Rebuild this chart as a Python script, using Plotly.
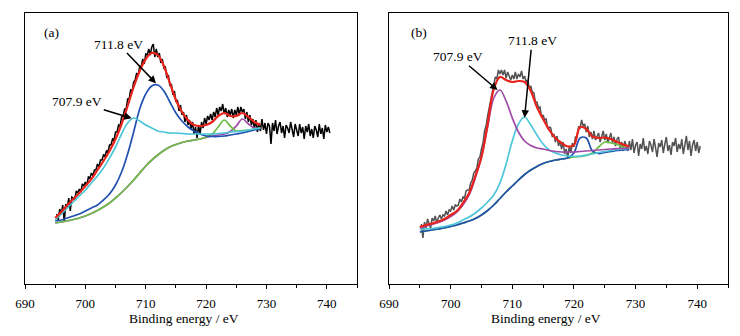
import plotly.graph_objects as go

# ---------------- data ----------------
# fitted components sampled every 1 eV from 695 to 729 eV; raw spectra every 0.25 eV from 695.25 eV
fit_start, fit_step = 695, 1
raw_start, raw_step = 695.25, 0.25

# panel (a)
a_envelope = [66, 72, 79, 85, 91, 98, 105, 114, 123, 133, 145, 160, 178, 197, 213, 225, 231, 229, 218, 201,
              184, 172, 164, 159, 158, 159, 162, 168, 171, 168, 168, 171, 167, 162, 159]
a_peak_7079 = [64, 70, 76, 82, 88, 94, 101, 108, 116, 126, 137, 150, 161, 166, 163, 159, 156, 153, 152, 151,
               151, 150.5, 150, 150, 150, 150, 150, 150.5, 151, 152, 152.5, 153, 154, 155, 156]
a_peak_7118 = [63, 64, 66, 68, 70, 73, 76, 79, 84, 90, 99, 112, 130, 152, 175, 190, 198, 199, 193, 182,
               171, 163, 157, 153, 150, 148, 147.5, 147.5, 148, 149, 150, 151, 152.5, 154, 155.5]
a_sat1 = [61, 62, 63, 64.5, 66, 68, 70.5, 73.5, 77, 81, 86, 91.5, 97.5, 104, 111, 118, 124, 129, 133.5, 137,
          139.5, 141.5, 143, 144, 145, 147, 150, 157, 164, 158, 153, 153.5, 154, 155, 156]
a_sat2 = [61, 62, 63, 64.5, 66, 68, 70.5, 73.5, 77, 81, 86, 91.5, 97.5, 104, 111, 118, 124, 129, 133.5, 137,
          139.5, 141.5, 143, 144, 145, 146.5, 148, 149, 150, 152.5, 158, 165, 160, 156, 156]
a_raw = [70, 64, 75, 70, 79, 62, 80, 77, 86, 73, 87, 86, 85, 93, 91, 95, 92, 100, 98, 102,
         99, 107, 106, 111, 108, 114, 114, 120, 117, 124, 124, 129, 128, 133, 132, 139, 139, 145, 144, 152,
         152, 159, 158, 167, 168, 175, 175, 185, 185, 194, 193, 202, 204, 211, 208, 218, 217, 225, 220, 230,
         229, 235, 229, 237, 240, 227, 235, 227, 231, 221, 225, 216, 217, 206, 209, 198, 200, 189, 193, 182,
         184, 173, 179, 169, 172, 162, 169, 159, 164, 155, 162, 150, 157, 146, 159, 150, 162, 156, 166, 160,
         168, 164, 170, 164, 172, 167, 176, 169, 177, 173, 180, 170, 176, 167, 174, 169, 175, 166, 174, 169,
         177, 169, 177, 172, 175, 165, 172, 162, 169, 159, 165, 155, 164, 152, 161, 153, 165, 154, 161, 150,
         161, 158, 140, 161, 153, 164, 150, 158, 162, 151, 158, 146, 159, 156, 151, 162, 152, 147, 160, 155,
         148, 160, 151, 157, 145, 158, 152, 160, 148, 155, 146, 158, 154, 147, 160, 150, 156, 145, 159, 152,
         157, 151]

# panel (b)
b_envelope = [57, 59, 60.5, 62.5, 65, 69, 73, 81, 91, 108, 127, 160, 195, 207, 204, 202, 203, 202, 193, 177,
              165, 154, 146, 141, 137.5, 139, 157, 155, 147.5, 146, 146.5, 145, 142, 139.5, 137.5]
b_peak_7079 = [56, 58, 59.5, 61.5, 64, 67.5, 72, 79, 89, 106, 127, 157, 186, 194, 183, 166, 152, 143, 138.5, 136,
               135, 133.5, 132.5, 132, 132, 132, 132.5, 133, 133.5, 134, 134.5, 135, 135.5, 135.5, 136]
b_peak_7118 = [54.5, 55, 55.5, 56.5, 57.5, 59, 61, 64, 67, 71, 76, 82, 89, 101, 120, 143, 160, 167, 159, 149,
               140, 134, 131, 129, 128, 127.5, 128, 129, 130, 131.5, 132.5, 133.5, 134.5, 135, 135.5]
b_sat1 = [52, 53, 54, 55, 56, 57.5, 59, 61, 63, 65.5, 69, 73.5, 79, 85.5, 92, 98, 104, 109.5, 114, 117.5,
          120.5, 122.5, 124, 125, 126, 131, 146, 146, 133, 130.5, 131.5, 132.5, 133.5, 134, 134.5]
b_sat2 = [52, 53, 54, 55, 56, 57.5, 59, 61, 63, 65.5, 69, 73.5, 79, 85.5, 92, 98, 104, 109.5, 114, 117.5,
          120.5, 122.5, 124, 125, 126, 127, 127.5, 128.5, 131, 137, 142, 141, 139.5, 137, 135]
b_raw = [60, 46, 62, 56, 65, 61, 56, 66, 63, 68, 61, 66, 69, 65, 69, 68, 73, 69, 74, 73,
         78, 74, 79, 78, 79, 85, 82, 87, 86, 93, 94, 94, 101, 104, 111, 113, 116, 125, 127, 135,
         141, 153, 158, 168, 176, 187, 192, 200, 207, 205, 214, 210, 214, 209, 214, 206, 212, 208, 204, 209,
         205, 212, 205, 210, 207, 213, 205, 208, 202, 204, 196, 198, 192, 191, 182, 182, 176, 177, 167, 169,
         164, 165, 155, 157, 156, 147, 150, 142, 148, 138, 143, 135, 142, 130, 135, 126, 138, 131, 141, 137,
         147, 147, 157, 156, 164, 158, 160, 152, 158, 147, 152, 145, 153, 144, 148, 151, 142, 149, 153, 144,
         150, 141, 146, 151, 141, 147, 138, 145, 147, 136, 142, 133, 143, 139, 133, 143, 134, 145, 131, 139,
         142, 128, 140, 135, 146, 133, 138, 130, 143, 139, 132, 145, 134, 127, 141, 137, 144, 131, 140, 147,
         133, 139, 129, 142, 138, 146, 132, 140, 135, 145, 130, 141, 148, 134, 143, 128, 139, 144, 133, 142,
         131, 138]

x_ticks = [690, 700, 710, 720, 730, 740]
x_range = [690, 745]
y_range = [0, 271]
x_title = "Binding energy / eV"

RED = "#e8231c"
CYAN = "#4cc6d8"
BLUE = "#2150b0"
GREEN = "#6dbf45"
PURPLE = "#a04ba8"
FONT = "Liberation Serif, Times New Roman, serif"

fig = go.Figure()


def add_panel(xa, ya, raw, raw_color, comps):
    fig.add_trace(go.Scatter(x0=raw_start, dx=raw_step, y=raw, mode="lines",
                             line=dict(color=raw_color, width=1.5), xaxis=xa, yaxis=ya,
                             showlegend=False, hoverinfo="skip"))
    for vals, col, w in comps:
        fig.add_trace(go.Scatter(x0=fit_start, dx=fit_step, y=vals, mode="lines",
                                 line=dict(color=col, width=w, shape="spline", smoothing=1.0),
                                 xaxis=xa, yaxis=ya, showlegend=False, hoverinfo="skip"))


add_panel("x", "y", a_raw, "#000000",
          [(a_sat2, PURPLE, 1.7), (a_sat1, GREEN, 1.7), (a_peak_7118, BLUE, 1.7),
           (a_peak_7079, CYAN, 1.7), (a_envelope, RED, 2.2)])
add_panel("x2", "y2", b_raw, "#525252",
          [(b_sat2, GREEN, 1.7), (b_sat1, BLUE, 1.7), (b_peak_7118, CYAN, 1.7),
           (b_peak_7079, PURPLE, 1.7), (b_envelope, RED, 2.2)])

xaxis_common = dict(range=x_range, tickvals=x_ticks, ticks="outside", ticklen=4, tickwidth=1.2,
                    tickcolor="black", showline=True, linecolor="black", linewidth=1.3, mirror=True,
                    showgrid=False, zeroline=False, ticklabelstandoff=3,
                    minor=dict(dtick=5, tick0=690, ticks="outside", ticklen=3, tickcolor="black", tickwidth=1),
                    tickfont=dict(family=FONT, size=13, color="black"))
yaxis_common = dict(range=y_range, showticklabels=False, ticks="", showline=True, linecolor="black",
                    linewidth=1.3, mirror=True, showgrid=False, zeroline=False)

# page body adds 8 px offset; figure sized/margined so plot boxes land where the reference has them
fig.update_layout(
    width=732, height=328,
    margin=dict(l=17, r=12, t=5, b=52),
    paper_bgcolor="white", plot_bgcolor="white",
    xaxis=dict(domain=[0, 0.4723], anchor="y", **xaxis_common),
    yaxis=dict(domain=[0, 1], anchor="x", **yaxis_common),
    xaxis2=dict(domain=[0.5178, 1], anchor="y2", **xaxis_common),
    yaxis2=dict(domain=[0, 1], anchor="x2", **yaxis_common),
    font=dict(family=FONT, size=13, color="black"),
)

tfont = dict(family=FONT, size=13.5, color="black")
fig.add_annotation(x=0.2255, y=-0.1255, xref="paper", yref="paper", text=x_title, showarrow=False,
                   font=tfont, xanchor="center", yanchor="middle")
fig.add_annotation(x=0.7418, y=-0.1255, xref="paper", yref="paper", text=x_title, showarrow=False,
                   font=tfont, xanchor="center", yanchor="middle")

afont = dict(family=FONT, size=13.5, color="black")
fig.add_annotation(x=694.4, y=251.7, xref="x", yref="y", text="(a)", showarrow=False, font=afont)
fig.add_annotation(x=694.8, y=251.7, xref="x2", yref="y2", text="(b)", showarrow=False, font=afont)

arrows = [
    ("x", "y", 711.7, 200.7, 705.46, 240.0, "711.8 eV"),
    ("x", "y", 707.68, 165.7, 698.66, 182.3, "707.9 eV"),
    ("x2", "y2", 707.61, 194.0, 701.27, 227.3, "707.9 eV"),
    ("x2", "y2", 712.0, 166.3, 713.2, 243.3, "711.8 eV"),
]
for xr, yr, tx, ty, ax, ay, txt in arrows:
    fig.add_annotation(x=tx, y=ty, xref=xr, yref=yr, ax=ax, ay=ay, axref=xr, ayref=yr,
                       text=txt, showarrow=True, arrowhead=2, arrowsize=1, arrowwidth=1.5,
                       arrowcolor="black", standoff=0, font=afont)

fig.write_html("out.html")
